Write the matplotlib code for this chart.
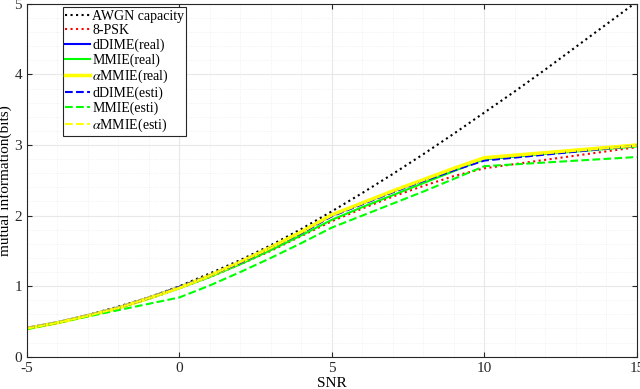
import matplotlib.pyplot as plt
import numpy as np

plt.rcParams['font.family'] = ['Liberation Serif', 'DejaVu Serif']
plt.rcParams['mathtext.fontset'] = 'stix'
plt.rcParams['axes.unicode_minus'] = False

# AWGN capacity, read at every dB
snr_fine = [-5, -4, -3, -2, -1, 0, 1, 2, 3, 4, 5, 6, 7, 8, 9, 10, 11, 12, 13, 14, 15]
awgn = [0.40, 0.48, 0.59, 0.71, 0.84, 1.00, 1.18, 1.37, 1.58, 1.81, 2.06,
        2.32, 2.59, 2.87, 3.16, 3.46, 3.76, 4.07, 4.39, 4.71, 5.03]

# the other curves
snr = [-5, -4, -3, -2, -1, 0, 1, 2, 3, 4, 5, 6, 7, 8, 9, 10, 15]
psk8 = [0.40, 0.48, 0.58, 0.69, 0.82, 0.97, 1.13, 1.31, 1.50, 1.71, 1.92,
        2.10, 2.27, 2.42, 2.56, 2.67, 2.97]
ddime_real = [0.41, 0.49, 0.59, 0.70, 0.84, 0.99, 1.15, 1.34, 1.55, 1.76, 2.00,
              2.17, 2.34, 2.50, 2.66, 2.80, 2.99]
mmie_real = [0.40, 0.48, 0.58, 0.69, 0.82, 0.97, 1.13, 1.31, 1.51, 1.72, 1.94,
             2.12, 2.29, 2.46, 2.63, 2.80, 2.98]
ammie_real = [0.40, 0.48, 0.58, 0.69, 0.83, 0.98, 1.15, 1.34, 1.55, 1.77, 2.01,
              2.18, 2.35, 2.51, 2.67, 2.82, 3.00]
ddime_esti = [0.40, 0.48, 0.58, 0.69, 0.83, 0.99, 1.15, 1.33, 1.54, 1.75, 1.99,
              2.16, 2.33, 2.49, 2.64, 2.78, 2.99]
mmie_esti = [0.39, 0.48, 0.57, 0.66, 0.75, 0.84, 1.01, 1.20, 1.40, 1.61, 1.83,
             2.00, 2.17, 2.34, 2.52, 2.70, 2.83]
ammie_esti = [0.40, 0.48, 0.58, 0.69, 0.83, 0.98, 1.15, 1.34, 1.54, 1.76, 2.00,
              2.17, 2.34, 2.50, 2.66, 2.81, 2.99]

fig = plt.figure(figsize=(6.4, 3.89), dpi=100)
ax = fig.add_axes([0.042, 0.083, 0.953, 0.907])

ax.plot(snr_fine, awgn, ':', color='k', lw=1.5, label='AWGN capacity')
ax.plot(snr, psk8, ':', color='r', lw=1.5, label='8-PSK')
ax.plot(snr, ddime_real, '-', color='b', lw=1.5, label='dDIME(real)')
ax.plot(snr, mmie_real, '-', color='#00ff00', lw=1.5, label='MMIE(real)')
ax.plot(snr, ammie_real, '-', color='#ffff00', lw=2.5, label=r'$\alpha$MMIE(real)')
ax.plot(snr, ddime_esti, '--', color='b', lw=1.5, label='dDIME(esti)')
ax.plot(snr, mmie_esti, '--', color='#00ff00', lw=1.5, label='MMIE(esti)')
ax.plot(snr, ammie_esti, '--', color='#ffff00', lw=1.5, label=r'$\alpha$MMIE(esti)')

ax.set_xlim(-5, 15)
ax.set_ylim(0, 5)
ax.set_xticks([-5, 0, 5, 10, 15])
ax.set_yticks([0, 1, 2, 3, 4, 5])
ax.set_xticks(np.arange(-5, 15.5, 1), minor=True)
ax.set_yticks(np.arange(0, 5.01, 0.2), minor=True)
ax.grid(True, which='major', color='#e8e8e8', lw=0.8)
ax.grid(True, which='minor', color='#ededed', lw=0.6, ls=':')
ax.set_axisbelow(True)
ax.tick_params(which='both', direction='in', top=True, right=True, labelsize=11, colors='#262626')
ax.tick_params(which='minor', length=0)
for s in ax.spines.values():
    s.set_color('#262626')
    s.set_linewidth(0.8)

ax.set_xlabel('SNR', fontsize=11, labelpad=2)
ax.set_ylabel('mutual information(bits)', fontsize=11, labelpad=2)

leg = ax.legend(loc='upper left', bbox_to_anchor=(0.059, 0.99), fontsize=10,
                fancybox=False, edgecolor='#262626', framealpha=1,
                handlelength=1.8, handletextpad=0.15, labelspacing=0.1,
                borderpad=0.15, borderaxespad=0)
leg.get_frame().set_linewidth(0.8)

fig.savefig('out.png', dpi=100)
